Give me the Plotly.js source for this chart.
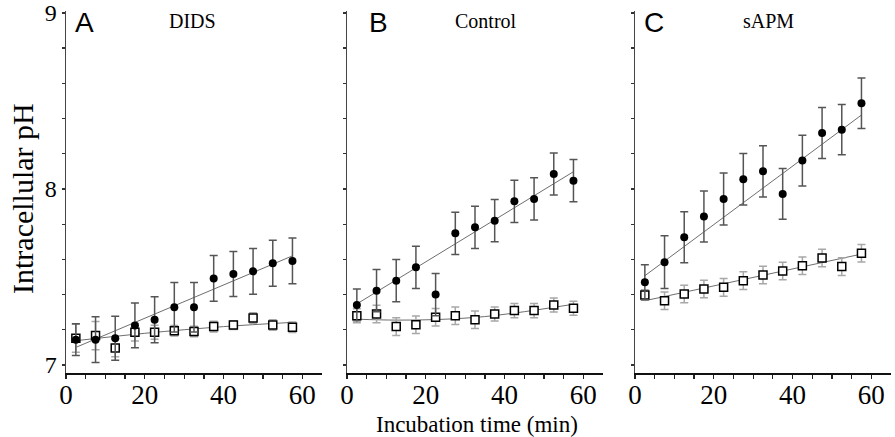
<!DOCTYPE html>
<html>
<head>
<meta charset="utf-8">
<script src="https://cdn.plot.ly/plotly-3.0.1.min.js"></script>
<style>html,body{margin:0;padding:0;background:#fff;}#chart{width:895px;height:437px;}</style>
</head>
<body>
<div id="chart"></div>
<script>
// Incubation times (min)
const times = [2.5, 7.5, 12.5, 17.5, 22.5, 27.5, 32.5, 37.5, 42.5, 47.5, 52.5, 57.5];

// Panel A: DIDS
const didsFilled = [7.144, 7.144, 7.152, 7.225, 7.257, 7.328, 7.328, 7.492, 7.517, 7.532, 7.578, 7.591];
const didsFilledErr = [0.09, 0.13, 0.125, 0.127, 0.13, 0.14, 0.14, 0.13, 0.128, 0.13, 0.13, 0.13];
const didsOpen = [7.152, 7.167, 7.097, 7.186, 7.186, 7.195, 7.19, 7.218, 7.227, 7.267, 7.227, 7.214];
const didsOpenErr = [0.08, 0.08, 0.05, 0.05, 0.04, 0.03, 0.03, 0.03, 0.025, 0.03, 0.03, 0.03];
const didsFitX = [2.5, 57.5];
const didsFilledFit = [7.10, 7.62];
const didsOpenFitX = [2.5, 20, 40, 57.5];
const didsOpenFit = [7.138, 7.18, 7.218, 7.242];

// Panel B: Control
const ctrlFilled = [7.341, 7.422, 7.479, 7.555, 7.40, 7.748, 7.782, 7.82, 7.93, 7.943, 8.085, 8.047];
const ctrlFilledErr = [0.09, 0.12, 0.12, 0.12, 0.12, 0.12, 0.12, 0.12, 0.12, 0.12, 0.12, 0.12];
const ctrlOpen = [7.28, 7.29, 7.218, 7.229, 7.271, 7.28, 7.257, 7.29, 7.309, 7.309, 7.341, 7.322];
const ctrlOpenErr = [0.04, 0.05, 0.05, 0.05, 0.05, 0.05, 0.05, 0.04, 0.04, 0.04, 0.04, 0.04];
const ctrlFitX = [2.5, 57.5];
const ctrlFilledFit = [7.347, 8.098];
const ctrlOpenFitX = [2.5, 12.5, 22.5, 32.5, 42.5, 57.5];
const ctrlOpenFit = [7.26, 7.255, 7.258, 7.27, 7.295, 7.345];

// Panel C: sAPM
const sapmFilled = [7.47, 7.584, 7.726, 7.843, 7.943, 8.055, 8.10, 7.972, 8.161, 8.318, 8.337, 8.487];
const sapmFilledErr = [0.1, 0.15, 0.145, 0.145, 0.148, 0.146, 0.146, 0.144, 0.144, 0.145, 0.143, 0.144];
const sapmOpen = [7.398, 7.365, 7.403, 7.432, 7.441, 7.479, 7.511, 7.534, 7.564, 7.608, 7.559, 7.635];
const sapmOpenErr = [0.03, 0.05, 0.05, 0.05, 0.05, 0.05, 0.05, 0.05, 0.05, 0.05, 0.05, 0.05];
const sapmFitX = [2.5, 57.5];
const sapmFilledFit = [7.507, 8.42];
const sapmOpenFit = [7.365, 7.63];

const panelLetters = ["A", "B", "C"];
const panelTitles = ["DIDS", "Control", "sAPM"];
const xTickVals = [0, 5, 10, 15, 20, 25, 30, 35, 40, 45, 50, 55, 60];
const xTickText = ["0", "", "", "", "20", "", "", "", "40", "", "", "", "60"];
const yTickVals = [7, 7.2, 7.4, 7.6, 7.8, 8, 8.2, 8.4, 8.6, 8.8, 9];
const yTickText = ["7", "", "", "", "", "8", "", "", "", "", "9"];

const serif = "Liberation Serif, Times New Roman, serif";
const sans = "Liberation Sans, Arial, sans-serif";

const panels = [
  {xa: "x", ya: "y", f: didsFilled, fe: didsFilledErr, o: didsOpen, oe: didsOpenErr,
   ffx: didsFitX, ff: didsFilledFit, ofx: didsOpenFitX, of: didsOpenFit},
  {xa: "x2", ya: "y2", f: ctrlFilled, fe: ctrlFilledErr, o: ctrlOpen, oe: ctrlOpenErr,
   ffx: ctrlFitX, ff: ctrlFilledFit, ofx: ctrlOpenFitX, of: ctrlOpenFit},
  {xa: "x3", ya: "y3", f: sapmFilled, fe: sapmFilledErr, o: sapmOpen, oe: sapmOpenErr,
   ffx: sapmFitX, ff: sapmFilledFit, ofx: sapmFitX, of: sapmOpenFit}
];

const traces = [];
panels.forEach(p => {
  traces.push({x: p.ffx, y: p.ff, xaxis: p.xa, yaxis: p.ya, mode: "lines",
    line: {color: "#6e6e6e", width: 1}, hoverinfo: "skip", showlegend: false});
  traces.push({x: p.ofx, y: p.of, xaxis: p.xa, yaxis: p.ya, mode: "lines",
    line: {color: "#6e6e6e", width: 1, shape: "spline"}, hoverinfo: "skip", showlegend: false});
  traces.push({x: times, y: p.o, xaxis: p.xa, yaxis: p.ya, mode: "markers",
    error_y: {type: "data", array: p.oe, color: "#a8a8a8", thickness: 1.5, width: 4},
    marker: {symbol: "square", size: 8, color: "#ffffff", line: {color: "#000", width: 1.5}},
    showlegend: false});
  traces.push({x: times, y: p.f, xaxis: p.xa, yaxis: p.ya, mode: "markers",
    error_y: {type: "data", array: p.fe, color: "#555555", thickness: 1.5, width: 4},
    marker: {symbol: "circle", size: 8, color: "#000000"},
    showlegend: false});
});

const W = 895, H = 437;
const xDomPx = [[66, 322], [347, 603], [635, 891]];
const yTopPx = 11, yBotPx = 373;
const yDom = [1 - yBotPx / H, 1 - yTopPx / H];

function xaxis(i) {
  return {
    domain: [xDomPx[i][0] / W, xDomPx[i][1] / W], range: [0, 65],
    showgrid: false, zeroline: false, showline: true, linecolor: "#111", linewidth: 2,
    ticks: "outside", ticklen: 4, tickwidth: 1.3, tickcolor: "#222",
    tickvals: xTickVals, ticktext: xTickText, ticklabelstandoff: -7,
    tickfont: {family: serif, size: 27, color: "#000"}, anchor: i === 0 ? "y" : "y" + (i + 1),
    fixedrange: true
  };
}
function yaxis(i) {
  return {
    domain: yDom, range: [6.9545, 9.011],
    showgrid: false, zeroline: false, showline: true, linecolor: "#444", linewidth: 1.5,
    ticks: "outside", ticklen: 3, tickwidth: 1.3, tickcolor: "#333",
    tickvals: yTickVals, ticktext: i === 0 ? yTickText : yTickVals.map(() => ""),
    tickfont: {family: serif, size: 24, color: "#000"},
    anchor: i === 0 ? "x" : "x" + (i + 1), fixedrange: true
  };
}

const letterX = [73, 367, 642];
const titleX = [192, 486, 768];
const annotations = [];
for (let i = 0; i < 3; i++) {
  annotations.push({text: panelLetters[i], xref: "paper", yref: "paper", x: letterX[i] / W, y: 1 - 23 / H,
    xanchor: "left", yanchor: "middle", showarrow: false, font: {family: sans, size: 28, color: "#000"}});
  annotations.push({text: panelTitles[i], xref: "paper", yref: "paper", x: titleX[i] / W, y: 1 - 21 / H,
    xanchor: "center", yanchor: "middle", showarrow: false, font: {family: serif, size: 20, color: "#000"}});
}
annotations.push({text: "Incubation time (min)", xref: "paper", yref: "paper", x: 477 / W, y: 1 - 424 / H,
  xanchor: "center", yanchor: "middle", showarrow: false, font: {family: serif, size: 23, color: "#000"}});
annotations.push({text: "Intracellular pH", xref: "paper", yref: "paper", x: 22 / W, y: 1 - 199 / H,
  xanchor: "center", yanchor: "middle", textangle: -90, showarrow: false,
  font: {family: serif, size: 30, color: "#000"}});

const layout = {
  width: W, height: H, margin: {l: 0, r: 0, t: 0, b: 0},
  paper_bgcolor: "#fff", plot_bgcolor: "#fff", showlegend: false,
  xaxis: xaxis(0), xaxis2: xaxis(1), xaxis3: xaxis(2),
  yaxis: yaxis(0), yaxis2: yaxis(1), yaxis3: yaxis(2),
  annotations: annotations
};

Plotly.newPlot("chart", traces, layout, {displayModeBar: false, staticPlot: true});
</script>
</body>
</html>
